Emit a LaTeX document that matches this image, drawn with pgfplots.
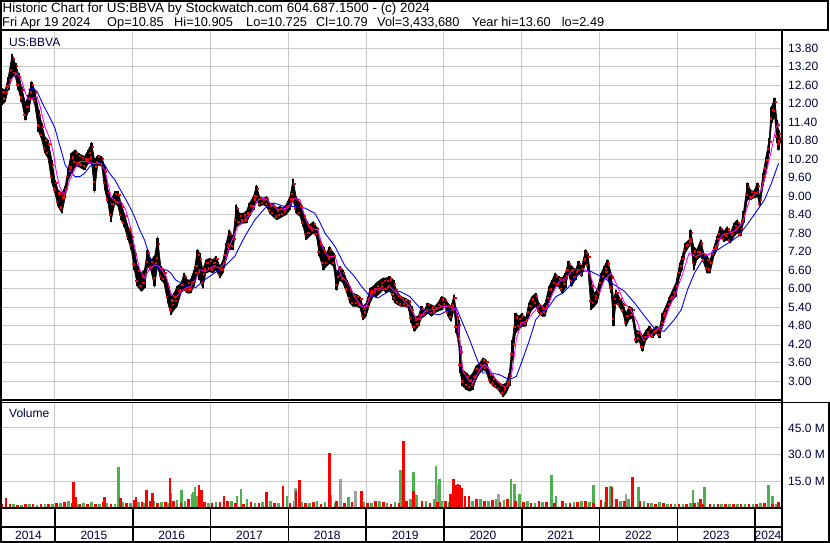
\documentclass[border=0pt]{standalone}
\usepackage{pgfplots}
\pgfplotsset{compat=1.18}
\usepackage{pgfplotstable}
\usepackage{fontspec}
\setmainfont{Liberation Sans}
\definecolor{gridgray}{RGB}{200,200,200}
\definecolor{navy}{RGB}{0,0,64}
\definecolor{vgreen}{RGB}{76,175,80}
\definecolor{vgrey}{RGB}{160,160,160}
\definecolor{mag}{RGB}{255,0,255}
\newcommand\lbl{\fontsize{12}{14}\selectfont}
\newcommand\hdra{\fontsize{13.4}{15}\selectfont}
\newcommand\hdrb{\fontsize{12.8}{15}\selectfont}

\pgfplotstableread{
t lo hi
2014.32 11.96 12.49
2014.36 12.06 12.44
2014.40 12.44 12.87
2014.45 12.87 13.60
2014.49 12.87 13.30
2014.53 12.44 12.98
2014.57 12.06 12.55
2014.62 11.47 12.01
2014.66 11.74 12.28
2014.70 12.22 12.71
2014.74 11.96 12.44
2014.79 11.09 11.79
2014.83 10.82 11.36
2014.87 10.39 10.93
2014.91 10.23 10.82
2014.96 9.42 10.17
2015.00 9.09 9.52
2015.04 8.66 9.20
2015.09 8.44 9.09
2015.13 8.93 9.31
2015.17 9.52 9.90
2015.21 9.74 10.39
2015.26 9.96 10.50
2015.30 9.96 10.39
2015.34 9.90 10.33
2015.38 9.85 10.28
2015.43 10.06 10.50
2015.47 10.06 10.73
2015.51 9.15 10.17
2015.55 10.01 10.33
2015.60 9.96 10.28
2015.64 9.20 9.96
2015.68 8.77 9.20
2015.72 8.17 8.88
2015.77 8.77 9.15
2015.81 8.66 9.15
2015.85 8.23 8.77
2015.89 8.01 8.44
2015.94 7.58 8.01
2015.98 7.26 7.80
2016.02 6.61 7.26
2016.06 6.07 6.72
2016.11 5.91 6.50
2016.15 6.01 6.61
2016.19 6.72 7.26
2016.23 6.61 6.93
2016.28 6.07 7.04
2016.32 6.72 7.65
2016.36 6.28 6.72
2016.40 6.18 6.61
2016.45 5.53 6.18
2016.49 5.15 5.74
2016.53 5.31 5.85
2016.57 5.42 6.07
2016.62 5.85 6.18
2016.66 5.96 6.50
2016.70 5.85 6.28
2016.74 5.85 6.28
2016.79 6.07 6.61
2016.83 6.50 7.26
2016.86 6.28 7.15
2016.90 6.01 6.61
2016.94 6.50 6.93
2016.99 6.55 6.98
2017.03 6.50 6.93
2017.07 6.61 7.04
2017.12 6.34 6.72
2017.16 6.50 6.93
2017.20 6.93 7.47
2017.24 7.26 7.90
2017.29 7.26 7.69
2017.33 8.01 8.72
2017.37 8.06 8.44
2017.42 8.12 8.44
2017.46 8.12 8.50
2017.50 8.34 8.77
2017.55 8.55 8.98
2017.59 8.88 9.34
2017.63 8.66 8.98
2017.67 8.72 8.93
2017.72 8.66 8.98
2017.76 8.44 8.77
2017.80 8.34 8.77
2017.85 8.23 8.61
2017.89 8.28 8.66
2017.93 8.34 8.61
2017.97 8.39 8.72
2018.02 8.55 8.98
2018.06 8.88 9.54
2018.10 8.44 8.98
2018.15 8.34 8.77
2018.19 8.01 8.44
2018.23 7.58 8.23
2018.27 7.69 8.06
2018.32 7.80 8.17
2018.36 7.69 8.01
2018.40 7.04 7.58
2018.45 6.61 7.36
2018.49 6.72 7.15
2018.53 6.82 7.36
2018.58 6.72 7.15
2018.62 5.96 6.50
2018.66 6.28 6.72
2018.70 6.18 6.61
2018.75 5.85 6.28
2018.79 5.53 6.07
2018.83 5.42 5.85
2018.88 5.42 5.80
2018.92 5.37 5.74
2018.96 4.99 5.42
2019.00 5.10 5.53
2019.05 5.53 6.01
2019.09 5.74 6.07
2019.13 5.74 6.18
2019.18 5.85 6.28
2019.22 5.96 6.34
2019.26 5.85 6.34
2019.30 5.96 6.39
2019.35 5.64 6.28
2019.37 5.53 6.07
2019.41 5.47 5.85
2019.45 5.42 5.74
2019.50 5.42 5.69
2019.54 5.37 5.64
2019.58 4.88 5.42
2019.62 4.61 5.10
2019.67 4.77 5.10
2019.71 5.04 5.42
2019.75 5.10 5.31
2019.79 5.20 5.53
2019.84 5.10 5.47
2019.88 5.20 5.42
2019.92 5.26 5.53
2019.97 5.31 5.74
2020.01 5.42 5.69
2020.05 5.10 5.53
2020.09 4.93 5.42
2020.13 5.31 5.80
2020.16 4.56 5.20
2020.19 4.12 4.99
2020.21 3.26 4.12
2020.24 2.83 3.37
2020.29 2.72 3.26
2020.33 2.67 3.15
2020.37 2.72 3.26
2020.41 3.04 3.48
2020.46 3.26 3.58
2020.50 3.37 3.75
2020.54 3.31 3.69
2020.59 2.94 3.26
2020.63 2.83 3.15
2020.67 2.77 3.04
2020.71 2.67 2.94
2020.76 2.49 2.88
2020.80 2.61 2.94
2020.84 2.83 3.26
2020.88 3.69 4.34
2020.92 4.56 5.20
2020.96 4.66 5.10
2021.00 4.77 5.20
2021.05 4.77 5.04
2021.09 5.10 5.53
2021.13 5.31 5.74
2021.18 5.42 5.85
2021.22 5.20 5.53
2021.26 5.10 5.42
2021.30 5.10 5.53
2021.35 5.53 6.07
2021.39 5.85 6.28
2021.43 6.07 6.50
2021.47 6.07 6.39
2021.52 5.85 6.34
2021.56 6.01 6.50
2021.60 6.50 6.88
2021.64 6.07 6.72
2021.69 6.28 6.61
2021.73 6.50 6.88
2021.77 6.39 6.72
2021.82 6.82 7.26
2021.85 6.61 7.15
2021.89 5.31 6.28
2021.93 5.42 5.85
2021.97 5.53 5.96
2022.02 6.07 6.50
2022.06 6.28 6.72
2022.10 6.39 6.93
2022.15 5.85 6.50
2022.18 4.77 5.64
2022.21 5.53 5.96
2022.25 5.42 5.74
2022.30 5.20 5.53
2022.34 4.77 5.20
2022.38 4.99 5.42
2022.42 5.04 5.37
2022.47 4.23 4.66
2022.51 4.29 4.61
2022.55 3.96 4.45
2022.60 4.34 4.66
2022.64 4.45 4.77
2022.68 4.40 4.66
2022.73 4.56 4.77
2022.77 4.40 4.72
2022.81 4.77 5.20
2022.85 5.10 5.42
2022.90 5.42 5.74
2022.94 5.64 5.96
2022.98 5.74 6.18
2023.03 6.39 6.82
2023.06 6.61 7.04
2023.10 7.15 7.47
2023.15 7.36 7.58
2023.17 7.47 7.90
2023.21 6.61 7.36
2023.25 6.93 7.26
2023.30 7.04 7.58
2023.34 6.82 7.15
2023.38 6.50 7.04
2023.42 6.50 6.93
2023.47 7.04 7.36
2023.51 7.26 7.69
2023.55 7.69 8.01
2023.60 7.52 7.85
2023.64 7.58 8.01
2023.68 7.47 7.80
2023.73 7.69 8.12
2023.77 7.80 8.23
2023.81 7.69 8.01
2023.85 8.12 8.50
2023.90 8.88 9.42
2023.94 8.88 9.20
2023.98 8.93 9.15
2024.03 8.98 9.42
2024.06 8.66 8.93
2024.10 9.31 9.74
2024.14 9.74 10.28
2024.18 10.39 10.87
2024.21 11.36 11.90
2024.25 11.58 12.17
2024.28 10.71 11.47
2024.30 10.50 11.14
2024.32 10.72 10.91
}\price

\pgfplotstableread{
t p
2014.38 12.44
2014.45 12.82
2014.51 12.98
2014.57 12.76
2014.62 12.33
2014.66 12.12
2014.72 12.17
2014.77 12.22
2014.81 11.90
2014.87 11.25
2014.94 10.82
2014.98 10.39
2015.02 9.74
2015.06 9.31
2015.11 9.04
2015.15 9.20
2015.19 9.52
2015.26 9.90
2015.32 10.12
2015.40 10.12
2015.49 10.06
2015.57 10.06
2015.64 9.85
2015.68 9.42
2015.72 8.98
2015.79 8.77
2015.85 8.82
2015.91 8.55
2015.98 7.90
2016.04 7.15
2016.09 6.61
2016.15 6.34
2016.21 6.61
2016.28 6.77
2016.34 6.72
2016.43 6.39
2016.49 5.85
2016.55 5.69
2016.62 5.91
2016.68 6.01
2016.74 6.07
2016.81 6.28
2016.86 6.61
2016.94 6.55
2017.03 6.72
2017.12 6.66
2017.18 6.82
2017.24 7.36
2017.35 8.01
2017.44 8.23
2017.52 8.44
2017.61 8.88
2017.70 8.93
2017.79 8.71
2017.87 8.55
2017.99 8.61
2018.08 8.93
2018.15 8.88
2018.21 8.34
2018.27 7.96
2018.38 7.90
2018.45 7.26
2018.51 7.04
2018.60 7.04
2018.68 6.39
2018.77 6.18
2018.85 5.74
2018.94 5.42
2019.00 5.42
2019.07 5.85
2019.15 6.01
2019.24 5.96
2019.30 6.07
2019.39 5.85
2019.47 5.64
2019.56 5.42
2019.65 4.99
2019.71 5.10
2019.77 5.31
2019.86 5.31
2019.99 5.42
2020.07 5.42
2020.16 5.31
2020.20 4.34
2020.24 3.37
2020.31 3.04
2020.37 2.94
2020.46 3.37
2020.52 3.53
2020.59 3.37
2020.67 3.04
2020.76 2.83
2020.82 2.83
2020.88 3.37
2020.93 4.34
2020.99 4.88
2021.06 4.93
2021.14 5.20
2021.23 5.47
2021.31 5.31
2021.40 5.85
2021.48 6.23
2021.57 6.34
2021.65 6.61
2021.74 6.61
2021.82 6.61
2021.87 6.50
2021.93 6.07
2022.00 5.85
2022.06 6.28
2022.15 6.50
2022.23 6.07
2022.32 5.53
2022.40 5.31
2022.49 4.88
2022.55 4.39
2022.64 4.45
2022.73 4.66
2022.81 4.77
2022.90 5.42
2022.98 5.85
2023.07 6.50
2023.15 7.15
2023.24 7.04
2023.33 7.15
2023.41 7.09
2023.50 7.36
2023.58 7.74
2023.67 7.80
2023.76 7.90
2023.84 8.17
2023.93 8.88
2024.01 9.09
2024.08 9.20
2024.14 9.74
2024.21 10.50
2024.27 11.25
2024.30 11.36
}\magma

\pgfplotstableread{
t p
2014.66 12.46
2014.72 12.49
2014.77 12.39
2014.85 11.95
2014.94 11.52
2015.00 11.20
2015.04 10.82
2015.09 10.39
2015.13 10.01
2015.19 9.79
2015.26 9.63
2015.32 9.63
2015.38 9.74
2015.45 9.96
2015.51 10.06
2015.57 10.08
2015.64 10.01
2015.70 9.74
2015.77 9.52
2015.83 9.25
2015.89 8.98
2015.96 8.66
2016.02 8.34
2016.09 7.90
2016.15 7.58
2016.19 7.26
2016.23 6.93
2016.30 6.72
2016.36 6.61
2016.43 6.61
2016.49 6.50
2016.55 6.28
2016.62 6.18
2016.68 6.07
2016.74 6.01
2016.81 6.03
2016.92 6.28
2017.05 6.50
2017.18 6.72
2017.31 7.04
2017.44 7.69
2017.57 8.23
2017.70 8.61
2017.82 8.77
2017.95 8.66
2018.08 8.66
2018.21 8.61
2018.34 8.44
2018.40 8.17
2018.47 7.80
2018.60 7.36
2018.73 6.72
2018.85 6.39
2018.94 6.07
2019.03 5.80
2019.15 5.69
2019.28 5.90
2019.43 5.91
2019.56 5.74
2019.69 5.37
2019.82 5.20
2019.94 5.15
2020.07 5.31
2020.16 5.37
2020.24 4.88
2020.33 4.34
2020.41 3.80
2020.50 3.26
2020.59 3.26
2020.71 3.21
2020.84 3.04
2020.93 3.15
2021.01 3.69
2021.10 4.34
2021.18 4.99
2021.27 5.26
2021.35 5.42
2021.44 5.74
2021.53 5.85
2021.61 6.07
2021.70 6.39
2021.78 6.55
2021.87 6.58
2021.93 6.50
2022.06 6.34
2022.19 6.12
2022.32 5.91
2022.45 5.53
2022.58 5.10
2022.70 4.72
2022.83 4.61
2022.96 4.99
2023.05 5.31
2023.13 5.96
2023.22 6.50
2023.35 7.04
2023.52 7.26
2023.65 7.47
2023.78 7.69
2023.91 8.12
2024.03 8.55
2024.12 8.88
2024.21 9.42
2024.27 9.85
2024.30 10.06
}\bluema

\pgfplotstableread{
t v
2014.32 2.5
2014.37 5.6
2014.42 2.0
2014.52 1.8
2014.62 2.2
2014.72 2.0
2014.82 2.5
2014.92 2.2
2015.02 2.8
2015.12 3.5
2015.22 3.0
2015.24 14.6
2015.27 6.0
2015.32 2.0
2015.42 2.5
2015.52 2.0
2015.62 3.5
2015.64 6.0
2015.72 2.5
2015.84 5.5
2015.92 3.0
2016.02 4.5
2016.04 6.0
2016.12 3.5
2016.18 10.0
2016.22 4.0
2016.25 8.4
2016.32 3.0
2016.42 3.5
2016.48 16.9
2016.52 4.0
2016.62 3.0
2016.72 5.0
2016.85 12.9
2016.88 10.0
2016.92 3.5
2017.02 3.0
2017.12 3.5
2017.17 7.0
2017.22 4.0
2017.32 3.0
2017.42 2.5
2017.52 3.5
2017.62 3.0
2017.72 8.8
2017.82 3.0
2017.93 12.3
2018.02 3.0
2018.10 9.4
2018.14 15.7
2018.22 3.0
2018.32 3.5
2018.42 2.5
2018.53 30.7
2018.62 4.0
2018.72 3.0
2018.82 3.5
2018.94 9.4
2019.02 3.0
2019.12 4.0
2019.22 3.5
2019.32 2.5
2019.42 3.0
2019.48 37.6
2019.52 4.0
2019.61 9.4
2019.72 4.0
2019.82 3.0
2019.92 3.5
2020.02 4.0
2020.08 8.0
2020.12 16.1
2020.16 13.2
2020.18 13.7
2020.20 13.2
2020.23 11.3
2020.27 7.0
2020.32 7.0
2020.42 5.0
2020.52 4.0
2020.62 4.5
2020.72 3.5
2020.82 5.0
2020.92 4.0
2021.02 3.5
2021.12 3.0
2021.22 4.0
2021.32 3.5
2021.42 3.0
2021.52 4.0
2021.62 3.0
2021.72 3.5
2021.82 4.0
2021.92 3.0
2022.02 4.5
2022.09 11.7
2022.16 11.7
2022.22 5.0
2022.32 4.0
2022.42 17.7
2022.52 4.0
2022.62 3.0
2022.72 2.5
2022.82 3.0
2022.92 2.5
2023.02 2.0
2023.12 2.5
2023.22 3.0
2023.30 5.0
2023.32 2.5
2023.42 2.0
2023.52 2.5
2023.62 2.0
2023.72 2.5
2023.82 2.0
2023.92 2.5
2024.02 2.0
2024.12 3.0
2024.22 2.5
2024.30 3.5
}\volred

\pgfplotstableread{
t v
2014.47 2.5
2014.57 1.8
2014.67 2.0
2014.77 1.5
2014.87 2.0
2014.97 2.5
2015.07 3.0
2015.17 4.0
2015.29 2.5
2015.37 3.0
2015.47 3.5
2015.57 2.5
2015.67 3.0
2015.77 2.0
2015.82 22.8
2015.87 3.5
2015.97 3.0
2016.07 3.5
2016.15 3.0
2016.27 4.0
2016.37 3.5
2016.45 3.0
2016.49 8.4
2016.57 4.5
2016.63 10.4
2016.67 4.0
2016.76 8.0
2016.78 9.0
2016.80 12.0
2016.83 7.0
2016.97 3.0
2017.07 3.5
2017.27 4.0
2017.34 7.0
2017.39 10.6
2017.47 5.0
2017.57 3.0
2017.67 3.5
2017.77 4.0
2017.87 3.0
2017.98 6.5
2018.07 4.0
2018.15 10.0
2018.17 3.5
2018.27 3.0
2018.37 4.0
2018.47 3.5
2018.55 7.5
2018.60 3.0
2018.77 6.0
2018.87 3.0
2018.97 3.5
2019.07 3.0
2019.17 4.0
2019.27 3.0
2019.37 3.5
2019.44 21.5
2019.57 5.0
2019.61 20.4
2019.65 7.5
2019.77 4.0
2019.87 5.0
2019.90 23.8
2019.94 16.5
2019.97 4.0
2020.07 3.5
2020.27 4.5
2020.37 4.0
2020.47 5.0
2020.57 4.0
2020.67 5.0
2020.77 4.5
2020.86 16.5
2020.91 13.4
2020.97 8.0
2021.07 4.0
2021.17 3.0
2021.27 3.5
2021.38 18.6
2021.44 6.5
2021.57 3.0
2021.67 3.5
2021.77 4.0
2021.87 3.5
2021.92 12.7
2022.07 3.5
2022.14 12.3
2022.27 4.0
2022.37 5.0
2022.50 11.7
2022.57 4.0
2022.67 3.0
2022.77 3.5
2022.87 2.5
2022.97 2.0
2023.07 2.0
2023.17 3.0
2023.20 10.4
2023.27 3.5
2023.35 11.7
2023.47 2.5
2023.57 2.0
2023.67 2.5
2023.77 2.0
2023.87 2.5
2023.97 2.0
2024.07 3.0
2024.17 13.0
2024.22 7.0
2024.27 2.5
}\volgreen

\pgfplotstableread{
t v
2018.09 11.0
2018.67 16.3
2018.86 9.4
2019.91 12.7
2020.70 8.0
2022.34 8.0
}\volgrey

\pgfplotsset{
  chartbase/.style={
    scale only axis, anchor=north west, width=779pt,
    xmin=2014.319, xmax=2024.332,
    xtick={2015,2016,2017,2018,2019,2020,2021,2022,2023,2024},
    xticklabels={},
    major tick length=0pt,
    grid=major, grid style={gridgray, line width=1pt},
    axis line style={draw=none},
    yticklabel pos=right,
    yticklabel style={anchor=west, inner sep=0pt, xshift=7pt, font=\lbl, text=navy},
  }
}

\begin{document}
\begin{tikzpicture}
\path[use as bounding box] (0pt,0pt) rectangle (830pt,543pt);

% price panel
\begin{axis}[chartbase, at={(2pt,511pt)}, height=368pt,
  ymin=2.384, ymax=14.32,
  ytick={3,3.6,4.2,4.8,5.4,6,6.6,7.2,7.8,8.4,9,9.6,10.2,10.8,11.4,12,12.6,13.2,13.8},
  yticklabels={3.00,3.60,4.20,4.80,5.40,6.00,6.60,7.20,7.80,8.40,9.00,9.60,10.20,10.80,11.40,12.00,12.60,13.20,13.80}]
\addplot[draw=none, stack plots=y, forget plot] table[x=t,y=lo]{\price};
\addplot[fill=black, draw=black, line width=0.6pt, stack plots=y, forget plot]
  table[x=t, y expr=\thisrow{hi}-\thisrow{lo}]{\price} \closedcycle;
\addplot[draw=none, mark=none, forget plot, error bars/.cd, y dir=plus, y explicit, error mark=none,
  error bar style={black, line width=2.4pt}]
  table[x=t, y=lo, y error expr=\thisrow{hi}-\thisrow{lo}]{\price};
\addplot[only marks, mark=square*, mark size=0.6pt, red, xshift=-1.2pt, forget plot]
  table[x=t, y expr={\thisrow{lo}+0.3*(\thisrow{hi}-\thisrow{lo})}]{\price};
\addplot[only marks, mark=square*, mark size=0.6pt, red, xshift=1.2pt, forget plot]
  table[x=t, y expr={\thisrow{hi}-0.2*(\thisrow{hi}-\thisrow{lo})}]{\price};
\addplot[blue, line width=0.9pt, forget plot] table[x=t,y=p]{\bluema};
\addplot[mag, line width=0.9pt, forget plot] table[x=t,y=p]{\magma};
\end{axis}

% volume panel
\begin{axis}[chartbase, at={(2pt,141pt)}, height=106pt,
  ymin=0, ymax=59.6,
  ytick={15,30,45}, yticklabels={15.0 M,30.0 M,45.0 M}]
\addplot[ycomb, vgreen, line width=2.6pt] table[x=t,y=v]{\volgreen};
\addplot[ycomb, vgrey, line width=2.6pt] table[x=t,y=v]{\volgrey};
\addplot[ycomb, red, line width=2.6pt] table[x=t,y=v]{\volred};
\end{axis}

% frames
\draw[line width=2pt] (0pt,541.5pt) -- (829pt,541.5pt);
\draw[line width=2pt] (828pt,543pt) -- (828pt,512pt);
\draw[line width=2pt] (0pt,512.5pt) -- (829pt,512.5pt);
\draw[line width=2.4pt] (1.2pt,0pt) -- (1.2pt,543pt);
\draw[line width=2pt] (781.5pt,512.5pt) -- (781.5pt,0pt);
\draw[line width=1.3pt] (0pt,143pt) -- (781.5pt,143pt);
\draw[line width=1.3pt] (0pt,140.3pt) -- (829pt,140.3pt);
\draw[line width=2pt] (828.5pt,141pt) -- (828.5pt,0pt);
\draw[line width=2pt] (0pt,34.5pt) -- (781.5pt,34.5pt);
\draw[line width=2pt] (0pt,16pt) -- (781.5pt,16pt);
\draw[line width=2pt] (0pt,1.2pt) -- (829pt,1.2pt);
\foreach \xx in {55,132.8,210.6,288.4,366.2,444,521.8,599.6,677.4,755.2}
  \draw[line width=1.6pt] (\xx pt,34.5pt) -- (\xx pt,0pt);

% year labels
\foreach \xx/\yy in {28.5/2014,93.9/2015,171.7/2016,249.5/2017,327.3/2018,405.1/2019,482.9/2020,560.7/2021,638.5/2022,716.3/2023,768/2024}
  \node[anchor=base, inner sep=0pt, font=\lbl, text=navy] at (\xx pt,3.3pt) {\yy};

% panel labels
\node[anchor=west, inner sep=0pt, font=\lbl, text=navy] at (9pt,501pt) {US:BBVA};
\node[anchor=west, inner sep=0pt, font=\lbl, text=navy] at (9pt,130pt) {Volume};

% header
\node[anchor=base west, inner sep=0pt, font=\hdra] at (2.5pt,530.3pt) {Historic Chart for US:BBVA by Stockwatch.com 604.687.1500 - (c) 2024};
\node[anchor=base west, inner sep=0pt, font=\hdrb] at (2pt,516pt) {Fri Apr 19 2024};
\node[anchor=base west, inner sep=0pt, font=\hdrb] at (107pt,516pt) {Op=10.85};
\node[anchor=base west, inner sep=0pt, font=\hdrb] at (174pt,516pt) {Hi=10.905};
\node[anchor=base west, inner sep=0pt, font=\hdrb] at (246pt,516pt) {Lo=10.725};
\node[anchor=base west, inner sep=0pt, font=\hdrb] at (316pt,516pt) {Cl=10.79};
\node[anchor=base west, inner sep=0pt, font=\hdrb] at (377pt,516pt) {Vol=3,433,680};
\node[anchor=base west, inner sep=0pt, font=\hdrb] at (471.7pt,516pt) {Year hi=13.60};
\node[anchor=base west, inner sep=0pt, font=\hdrb] at (561.7pt,516pt) {lo=2.49};
\end{tikzpicture}
\end{document}
